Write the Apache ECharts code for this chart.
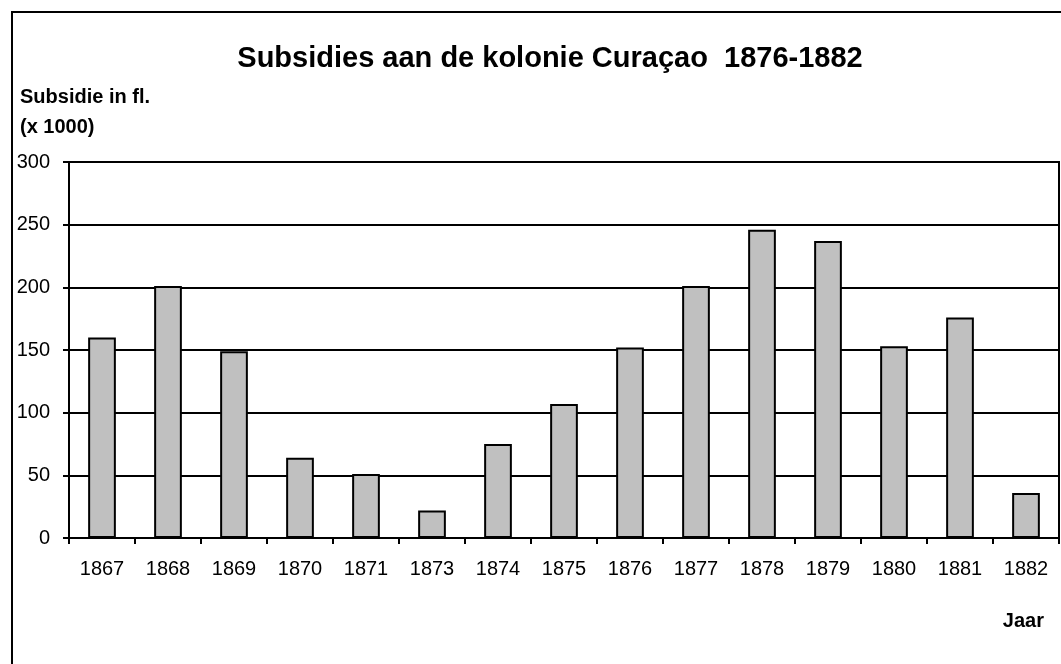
<!DOCTYPE html>
<html>
<head>
<meta charset="utf-8">
<script src="https://cdn.jsdelivr.net/npm/echarts@6/dist/echarts.min.js"></script>
<style>
html,body{margin:0;padding:0;background:#fff;}
#c{width:1061px;height:664px;}
</style>
</head>
<body>
<div id="c"></div>
<script>
const years = ['1867','1868','1869','1870','1871','1873','1874','1875','1876','1877','1878','1879','1880','1881','1882'];
const subsidies = [160, 201, 149, 64, 51, 22, 75, 107, 152, 201, 246, 237, 153, 176, 36];
const yTicks = [0, 50, 100, 150, 200, 250, 300];

const FONT = '"Liberation Sans", Arial, sans-serif';
const chart = echarts.init(document.getElementById('c'), null, {renderer: 'canvas'});
chart.setOption({
  animation: false,
  backgroundColor: '#fff',
  graphic: [
    {type: 'rect', shape: {x: 12, y: 12, width: 1100, height: 700}, style: {fill: null, stroke: '#000', lineWidth: 2}, silent: true},
    {type: 'text', x: 550, y: 59, style: {text: 'Subsidies aan de kolonie Curaçao  1876-1882', font: 'bold 29px "Liberation Sans", Arial', fill: '#000', textAlign: 'center', textVerticalAlign: 'middle'}},
    {type: 'text', x: 20, y: 97, style: {text: 'Subsidie in fl.', font: 'bold 20px "Liberation Sans", Arial', fill: '#000', textAlign: 'left', textVerticalAlign: 'middle'}},
    {type: 'text', x: 20, y: 127, style: {text: '(x 1000)', font: 'bold 20px "Liberation Sans", Arial', fill: '#000', textAlign: 'left', textVerticalAlign: 'middle'}},
    {type: 'text', x: 1044, y: 621, style: {text: 'Jaar', font: 'bold 20px "Liberation Sans", Arial', fill: '#000', textAlign: 'right', textVerticalAlign: 'middle'}}
  ],
  grid: {left: 69, top: 162, right: 2, bottom: 126, show: true, borderColor: '#000', borderWidth: 2, backgroundColor: 'transparent'},
  xAxis: {
    type: 'category',
    data: years,
    boundaryGap: true,
    axisLine: {lineStyle: {color: '#000', width: 2}},
    axisTick: {show: true, length: 6, lineStyle: {color: '#000', width: 2}},
    axisLabel: {fontFamily: FONT, fontSize: 20, color: '#000', margin: 21, interval: 0}
  },
  yAxis: {
    type: 'value',
    min: yTicks[0], max: yTicks[yTicks.length - 1], interval: 50,
    axisLine: {show: true, lineStyle: {color: '#000', width: 2}},
    axisTick: {show: true, length: 6, lineStyle: {color: '#000', width: 2}},
    axisLabel: {fontFamily: FONT, fontSize: 20, color: '#000', margin: 19},
    splitLine: {show: true, lineStyle: {color: '#000', width: 2}}
  },
  series: [{
    type: 'bar',
    data: subsidies,
    barCategoryGap: '58%',
    itemStyle: {color: '#c0c0c0', borderColor: '#000', borderWidth: 2}
  }]
});
</script>
</body>
</html>
